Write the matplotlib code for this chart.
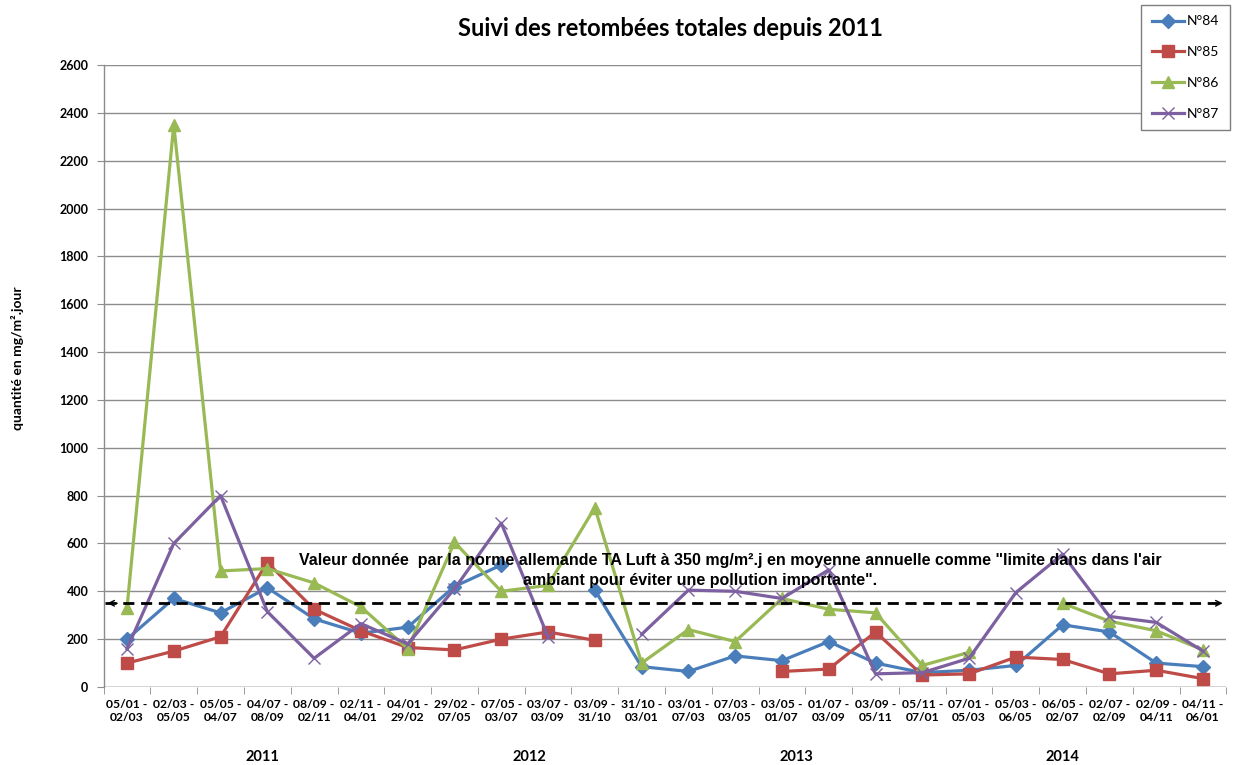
import numpy as np
import matplotlib
matplotlib.use("Agg")
import matplotlib.pyplot as plt
import matplotlib.transforms as mtransforms

nan = np.nan

periods = ["05/01 -\n02/03", "02/03 -\n05/05", "05/05 -\n04/07", "04/07 -\n08/09",
           "08/09 -\n02/11", "02/11 -\n04/01", "04/01 -\n29/02", "29/02 -\n07/05",
           "07/05 -\n03/07", "03/07 -\n03/09", "03/09 -\n31/10", "31/10 -\n03/01",
           "03/01 -\n07/03", "07/03 -\n03/05", "03/05 -\n01/07", "01/07 -\n03/09",
           "03/09 -\n05/11", "05/11 -\n07/01", "07/01 -\n05/03", "05/03 -\n06/05",
           "06/05 -\n02/07", "02/07 -\n02/09", "02/09 -\n04/11", "04/11 -\n06/01"]

years = ["2011", "2012", "2013", "2014"]
year_pos = [2.9, 8.6, 14.3, 20.0]

n84 = [200, 370, 310, 415, 285, 225, 250, 420, 510, nan, 405, 85,
       65, 130, 110, 190, 100, 60, 70, 90, 260, 230, 100, 85]
n85 = [100, 150, 210, 520, 325, 235, 165, 155, 200, 230, 195, nan,
       nan, nan, 65, 75, 230, 50, 55, 125, 115, 55, 70, 35]
n86 = [330, 2350, 485, 495, 435, 335, 160, 605, 400, 425, 750, 100,
       240, 190, 370, 325, 310, 90, 145, nan, 350, 275, 235, 155]
n87 = [160, 600, 800, 315, 120, 265, 180, 410, 685, 210, nan, 220,
       405, 400, 370, 490, 55, 60, 120, 395, 555, 295, 270, 150]

limit = 350
note1 = ("Valeur donnée  par la norme allemande TA Luft à 350 mg/m².j en moyenne "
         "annuelle comme \"limite dans dans l'air")
note2 = "ambiant pour éviter une pollution importante\"."

series = [
    ("N°84", n84, "#4A7EBB", "D", 7, 1.0),
    ("N°85", n85, "#BE4B48", "s", 8.5, 1.0),
    ("N°86", n86, "#98B954", "^", 9, 1.0),
    ("N°87", n87, "#7D60A0", "x", 9, 1.0),
]

W, H = 1233, 765
fig = plt.figure(figsize=(W / 100, H / 100), dpi=100)
ax = fig.add_axes([103.6 / W, 1 - 687 / H, (1226.4 - 103.6) / W, (687 - 65) / H])

x = np.arange(len(periods))
for name, vals, col, mk, ms, a in series:
    v = np.array(vals, dtype=float)
    if mk == "x":
        ax.plot(x, v, color=col, lw=2.3, marker=mk, ms=ms, mew=1.0, label=name, zorder=3)
    else:
        ax.plot(x, v, color=col, lw=2.3, marker=mk, ms=ms, mec=col, label=name, zorder=3)

ax.set_xlim(-0.5, len(periods) - 0.5)
ax.set_ylim(0, 2600)
ax.set_yticks(np.arange(0, 2601, 200))
ax.yaxis.grid(True, color="#8c8c8c", lw=1.0)
ax.set_axisbelow(True)
for s in ["top", "right", "bottom"]:
    ax.spines[s].set_visible(False)
ax.spines["left"].set_color("#8c8c8c")
ax.spines["left"].set_linewidth(1.0)
ax.axhline(0, color="#8c8c8c", lw=1.0, zorder=1)

ax.tick_params(axis="y", length=5, color="#8c8c8c", pad=6, labelsize=9)
for lab in ax.get_yticklabels():
    lab.set_fontweight("bold")
    lab.set_family("Lato")

ax.set_xticks(x)
ax.set_xticklabels(periods, fontsize=8.7, fontweight="bold", family="Lato", linespacing=1.2)
ax.tick_params(axis="x", length=0, pad=9)
ax.set_xticks(np.arange(-0.5, len(periods), 1.0), minor=True)
ax.tick_params(axis="x", which="minor", length=5, color="#8c8c8c")

trans = mtransforms.blended_transform_factory(ax.transData, ax.transAxes)
for yr, p in zip(years, year_pos):
    ax.text(p, -0.1125, yr, transform=trans, ha="center", va="center",
            fontsize=10.5, fontweight="bold", family="Lato")

# limit line with arrows
ax.plot([-0.47, 23.47], [limit, limit], color="black", lw=2.0, ls=(0, (4, 2.4)), zorder=4)
ax.annotate("", xy=(-0.48, limit), xytext=(-0.15, limit),
            arrowprops=dict(arrowstyle="->", color="black", lw=1.0,
                            mutation_scale=10), zorder=4)
ax.annotate("", xy=(23.48, limit), xytext=(23.15, limit),
            arrowprops=dict(arrowstyle="->", color="black", lw=1.0,
                            mutation_scale=10), zorder=4)

fig.text(730 / W, 1 - 561 / H, note1, ha="center", va="center", fontsize=11.5,
         fontweight="bold", family="Liberation Sans", zorder=5)
fig.text(700 / W, 1 - 581 / H, note2, ha="center", va="center", fontsize=11.5,
         fontweight="bold", family="Liberation Sans", zorder=5)

fig.text(671 / W, 1 - 28 / H, "Suivi des retombées totales depuis 2011", ha="center",
         va="center", fontsize=17, fontweight="bold", family="Lato")
fig.text(18 / W, 1 - 358 / H, "quantité en mg/m².jour", rotation=90, ha="center",
         va="center", fontsize=10, fontweight="bold", family="Lato")

leg = ax.legend(loc="upper right", bbox_to_anchor=(1230 / W, 1 - 5 / H),
                bbox_transform=fig.transFigure, frameon=True, fancybox=False,
                edgecolor="#7f7f7f", framealpha=1, labelspacing=1.35,
                handlelength=2.3, handletextpad=0.25, borderpad=0.75,
                borderaxespad=0, prop={"family": "Lato", "size": 10})
leg.get_frame().set_linewidth(1.0)
leg.set_zorder(6)

fig.savefig("out.png", dpi=100)
